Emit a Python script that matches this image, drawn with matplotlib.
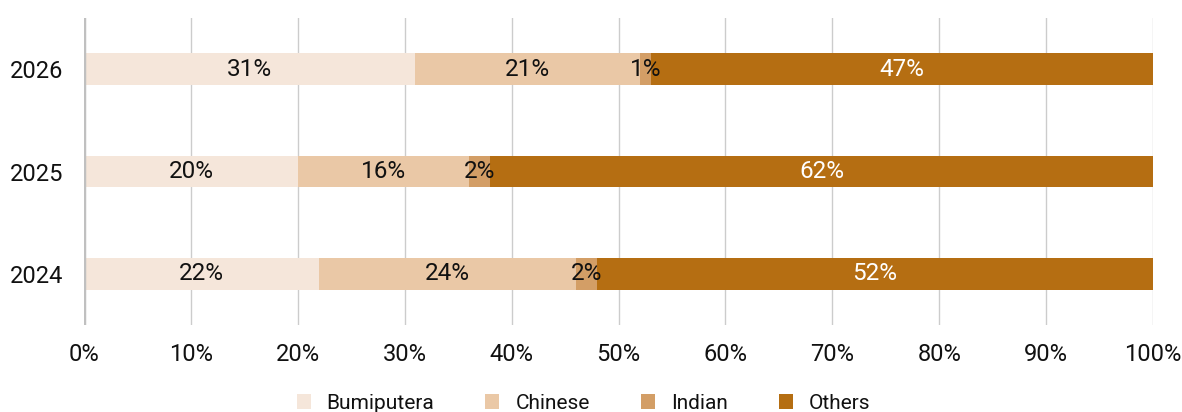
import matplotlib.pyplot as plt
import numpy as np

years = ['2024', '2025', '2026']
groups = ['Bumiputera', 'Chinese', 'Indian', 'Others']
bumiputera = [22, 20, 31]
chinese = [24, 16, 21]
indian = [2, 2, 1]
others = [52, 62, 47]
colors = ['#F5E6DA', '#EAC8A6', '#D39E66', '#B56E12']
text_colors = ['#111111', '#111111', '#111111', 'white']

plt.rcParams['font.family'] = ['Roboto', 'DejaVu Sans']

def main():
    fig = plt.figure(figsize=(11.82, 4.12), dpi=100)
    ax = fig.add_axes([0.0711, 0.211, 0.9044, 0.745])

    y = np.arange(len(years))
    left = np.zeros(len(years))
    series = [bumiputera, chinese, indian, others]
    for vals, name, col, tc in zip(series, groups, colors, text_colors):
        bars = ax.barh(y, vals, left=left, height=0.31, color=col, label=name, zorder=3)
        ax.bar_label(bars, labels=[f'{v}%' for v in vals], label_type='center',
                     color=tc, fontsize=17.5, zorder=4)
        left += np.array(vals)

    ax.set_xlim(0, 100)
    ax.set_ylim(-0.5, 2.5)
    ax.set_xticks(range(0, 101, 10))
    ax.set_xticklabels([f'{t}%' for t in range(0, 101, 10)])
    ax.set_yticks(y)
    ax.set_yticklabels(years)
    ax.tick_params(axis='both', length=0, labelsize=17, colors='#111111')
    ax.tick_params(axis='x', pad=13)
    ax.tick_params(axis='y', pad=15)
    for s in ax.spines.values():
        s.set_visible(False)
    ax.grid(axis='x', color='#cccccc', linewidth=1, zorder=0)
    ax.axvline(0, color='#c0c0c0', linewidth=2.5, zorder=5)

    fig.legend(loc='center', bbox_to_anchor=(0.4935, 0.021), ncol=4, frameon=False,
               fontsize=15, handlelength=0.67, handleheight=0.67, columnspacing=2.45,
               handletextpad=0.77, labelcolor='#111111')

    fig.savefig('out.png', dpi=100)

if __name__ == '__main__':
    main()
